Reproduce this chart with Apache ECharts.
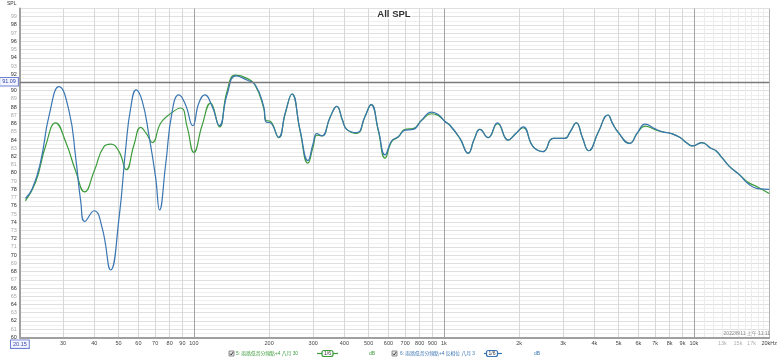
<!DOCTYPE html>
<html><head><meta charset="utf-8">
<script src="https://cdn.jsdelivr.net/npm/echarts@6/dist/echarts.min.js"></script>
<style>html,body{margin:0;padding:0;background:#fff}#c{width:780px;height:361px}</style>
</head><body><div id="c"></div>
<script>
// ---- data ----
const freqBlue = [21.2,22.6,24.4,26.4,28.9,31.7,33.7,35.3,36.6,39.9,43.0,46.5,50.2,53.4,55.9,58.8,62.2,66.1,70.3,72.9,77.1,81.9,87.1,92.6,99.0,104.7,110.6,118.3,126.6,135.7,147.4,163.1,176.2,190.2,194.2,202.2,218.3,232,246.7,266,285.8,300,310.4,325,351,373,393,408.8,448,484,511.6,547,581.7,618,657.5,699,754,814,893,949,1010,1057,1159,1251,1322,1393,1503,1638,1807,1940,2073,2273,2493,2733,3043,3200,3385,3580,3792,4150,4528,4730,4963,5526,5950,6378,6956,7504,8098,8800,9400,9885,10740,11690,12250,13000,13855,15191,16390,17966,20000];
const splBlue = [76.9,78.1,81.4,87.05,90.5,87.5,81.8,76.5,74.1,75.4,73.3,68.2,74.5,83.0,87.9,90.1,88.7,84.6,79.5,75.5,81.0,87.5,89.5,88.3,85.75,88.5,89.5,88.1,85.75,89.5,91.8,91.3,90.7,88.1,86.2,86.1,84.35,87.3,89.6,85.2,81.5,83.6,84.8,84.5,86.8,88.1,86.4,85.3,84.9,86.9,88.3,85.2,82.2,83.9,84.4,85.2,85.3,86.4,87.4,87.1,86.25,85.8,84.2,82.4,84.1,85.3,84.3,86.1,84.0,84.8,85.6,83.2,82.6,84.2,84.2,85.0,86.1,84.3,82.7,85.0,87.05,86.0,85.0,83.6,84.9,85.95,85.4,85.0,84.8,84.3,83.6,83.3,83.7,83.0,82.7,81.8,80.8,79.8,78.75,78.1,78.0];
const freqGreen = [21.2,23.3,25.6,28.0,30.7,33.7,36.6,39.9,43.7,46.5,50.2,53.7,57.6,61.3,64.5,68.2,73.6,79.4,88.5,94.0,100,107.9,116.6,126.6,135.7,146.6,163.1,176.2,190.2,194.2,202.2,218.3,232,246.7,266,285.8,300,310.4,325,351,373,393,408.8,448,484,511.6,547,581.7,618,657.5,699,754,814,893,949,1010,1057,1159,1251,1322,1393,1503,1638,1807,1940,2073,2273,2493,2733,3043,3200,3385,3580,3792,4150,4528,4730,4963,5526,5950,6378,6956,7504,8098,8800,9400,9885,10740,11690,12250,13000,13855,15191,16390,17966,20000];
const splGreen = [76.6,78.9,83.4,86.1,83.8,80.2,77.7,80.2,83.2,83.5,82.6,80.4,83.4,85.55,84.8,83.7,86.05,87.05,87.9,85.6,82.5,85.8,88.5,85.6,89.9,91.9,91.5,90.6,87.9,86.4,86.3,84.3,87.2,89.6,85.1,81.2,83.2,84.6,84.5,86.8,88.1,86.4,85.3,84.8,86.9,88.3,85.1,81.8,83.8,84.4,85.3,85.4,86.4,87.2,87.0,86.25,85.8,84.2,82.4,84.1,85.3,84.3,86.0,84.0,84.8,85.5,83.2,82.6,84.2,84.2,85.0,86.1,84.3,82.7,85.0,87.05,86.0,85.0,83.6,84.9,85.7,85.3,85.0,84.8,84.3,83.6,83.3,83.7,83.0,82.7,81.8,80.8,79.8,78.9,78.3,77.5];
const gridFreqs = [30,40,50,60,70,80,90,100,200,300,400,500,600,700,800,900,1000,2000,3000,4000,5000,6000,7000,8000,9000,10000,11000,12000,13000,14000,15000,16000,17000,18000,19000,20000];
const xLabelFreqs = [20.15,30,40,50,60,70,80,90,100,200,300,400,500,600,700,800,900,1000,2000,3000,4000,5000,6000,7000,8000,9000,10000,13000,15000,17000,20000];
const xLabelTexts = ['20.15','30','40','50','60','70','80','90','100','200','300','400','500','600','700','800','900','1k','2k','3k','4k','5k','6k','7k','8k','9k','10k','13k','15k','17k','20kHz'];
const refLevel = 91.09;
const seriesNames = ['5: 兩路低音分頻點+4 八月 30','6: 兩路低音分頻點+4 反相位 八月 3'];
const dateText = '2022/8/11 上午 11:11';

// ---- chart ----
const blue = '#3a76b2', green = '#3c9c3c';
const xMin = Math.log10(20.15), xMax = Math.log10(20000);
const toXY = (fs, vs) => fs.map((f, i) => [Math.log10(f), vs[i]]);
const gridColors = gridFreqs.map(f => (f === 100 || f === 1000 || f === 10000) ? '#a4a4a4' : (f === 20000 ? '#b4b4b4' : (f > 10000 ? '#ececec' : '#d8d8d8')));
const FONT = '"Liberation Sans", Arial, "Noto Sans CJK TC", sans-serif';

function labelFor(v) {
  for (let i = 0; i < xLabelFreqs.length; i++) {
    if (Math.abs(Math.log10(xLabelFreqs[i]) - v) < 1e-6) {
      const t = xLabelTexts[i];
      if (i === 0) return '{box|' + t + '}';
      if (xLabelFreqs[i] > 10000 && xLabelFreqs[i] < 20000) return '{dim|' + t + '}';
      return t;
    }
  }
  return '';
}

function checkbox(x, y) {
  return [
    {type: 'rect', z: 100, shape: {x: x, y: y, width: 5, height: 5}, style: {fill: '#e6e6e6', stroke: '#777', lineWidth: 0.8}},
    {type: 'polyline', z: 101, shape: {points: [[x + 1, y + 2.6], [x + 2.2, y + 3.9], [x + 4.2, y + 1.1]]}, style: {stroke: '#222', lineWidth: 0.9, fill: null}}
  ];
}
function octBox(x1, x2, bx1, bx2, y, color) {
  return [
    {type: 'line', z: 100, shape: {x1: x1, y1: y, x2: x2, y2: y}, style: {stroke: color, lineWidth: 1.2}},
    {type: 'rect', z: 101, shape: {x: bx1, y: y - 3, width: bx2 - bx1, height: 6, r: 2}, style: {fill: '#fff', stroke: color, lineWidth: 1.2}},
    {type: 'text', z: 102, x: (bx1 + bx2) / 2, y: y, style: {text: '1/6', fill: '#333', fontSize: 5, fontFamily: FONT, align: 'center', verticalAlign: 'middle'}}
  ];
}
const ly = 353.5;
const graphics = [
  {type: 'text', z: 100, x: 394, y: 14.5, style: {text: 'All SPL', fill: '#333', fontSize: 9.5, fontWeight: 'bold', fontFamily: FONT, align: 'center', verticalAlign: 'middle', backgroundColor: 'rgba(255,255,255,0.85)', padding: [0, 1]}},
  {type: 'text', z: 100, x: 7, y: 4, style: {text: 'SPL', fill: '#333', fontSize: 5, fontFamily: FONT, align: 'left', verticalAlign: 'middle'}},
  {type: 'text', z: 100, x: 770, y: 333.5, style: {text: dateText, fill: '#888', fontSize: 5, fontFamily: FONT, align: 'right', verticalAlign: 'middle'}},
  ...checkbox(229, ly - 2.5),
  {type: 'text', z: 100, x: 236, y: ly, style: {text: seriesNames[0], fill: green, fontSize: 4.8, fontFamily: FONT, align: 'left', verticalAlign: 'middle'}},
  ...octBox(317, 338, 322, 333, ly, green),
  {type: 'text', z: 100, x: 369, y: ly, style: {text: 'dB', fill: green, fontSize: 5, fontFamily: FONT, align: 'left', verticalAlign: 'middle'}},
  ...checkbox(392, ly - 2.5),
  {type: 'text', z: 100, x: 400, y: ly, style: {text: seriesNames[1], fill: blue, fontSize: 4.8, fontFamily: FONT, align: 'left', verticalAlign: 'middle'}},
  ...octBox(484, 502, 486.5, 497.5, ly, blue),
  {type: 'text', z: 100, x: 534, y: ly, style: {text: 'dB', fill: blue, fontSize: 5, fontFamily: FONT, align: 'left', verticalAlign: 'middle'}}
];

const chart = echarts.init(document.getElementById('c'), null, {renderer: 'canvas'});
chart.setOption({
  animation: false,
  backgroundColor: '#fff',
  textStyle: {fontFamily: FONT},
  grid: {left: 19.9, right: 8.8, top: 8.5, bottom: 23.6, containLabel: false},
  xAxis: {
    type: 'value', min: xMin, max: xMax,
    axisLine: {show: true, onZero: false, lineStyle: {color: '#a0a0a0', width: 2}},
    axisTick: {show: false, customValues: gridFreqs.map(f => Math.log10(f))},
    splitLine: {show: true, lineStyle: {color: gridColors, width: 1}},
    axisLabel: {
      customValues: xLabelFreqs.map(f => Math.log10(f)),
      formatter: labelFor, fontSize: 5.5, color: '#444', margin: 3,
      rich: {
        box: {color: '#3344aa', fontSize: 5.5, borderColor: '#7080d0', borderWidth: 1, backgroundColor: '#f4f6ff', padding: [1, 2]},
        dim: {color: '#b0b0b0', fontSize: 5.5}
      }
    }
  },
  yAxis: {
    type: 'value', min: 60, max: 100, interval: 1,
    axisLine: {show: true, lineStyle: {color: '#a0a0a0', width: 2}},
    axisTick: {show: false},
    axisLabel: {fontSize: 5.5, margin: 3, formatter: v => (v >= 100 ? '' : String(v)), color: v => (Number(v) % 2 === 0 ? '#333' : '#aaa')},
    splitLine: {show: true, lineStyle: {color: '#e0e0e0', width: 1}},
    minorTick: {show: false, splitNumber: 2},
    minorSplitLine: {show: true, lineStyle: {color: '#f0f0f0', width: 1}}
  },
  series: [
    {name: seriesNames[0], type: 'line', data: toXY(freqGreen, splGreen), smooth: 0.5, symbol: 'none',
     lineStyle: {color: green, width: 1.2}, itemStyle: {color: green}, z: 2},
    {name: seriesNames[1], type: 'line', data: toXY(freqBlue, splBlue), smooth: 0.5, symbol: 'none',
     lineStyle: {color: blue, width: 1.2}, itemStyle: {color: blue}, z: 3,
     markLine: {silent: true, symbol: 'none', animation: false,
       lineStyle: {color: '#7a7a7a', width: 1.4, type: 'solid'},
       label: {position: 'start', formatter: String(refLevel), fontSize: 5.5, color: '#3344aa', borderColor: '#7080d0', borderWidth: 1, backgroundColor: '#f4f6ff', padding: [1, 2], distance: 2},
       data: [{yAxis: refLevel}]}}
  ],
  graphic: graphics
});
</script>
</body></html>
